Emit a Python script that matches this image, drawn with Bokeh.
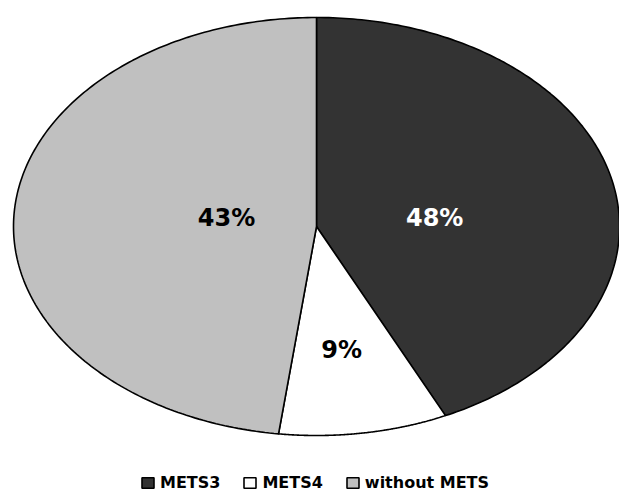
import numpy as np
from bokeh.plotting import figure
from bokeh.models import Range1d, Legend, LegendItem, ColumnDataSource
from bokeh.core.properties import value
from bokeh.embed import file_html
from bokeh.resources import INLINE

# ---- data ----
categories = ["METS3", "METS4", "without METS"]
label_texts = ["48%", "9%", "43%"]          # printed labels
slice_shares = [43, 9, 48]                    # angular shares as drawn (percent)

# ---- styling / layout (kept separate from the data) ----
colors = ["#333333", "#FFFFFF", "#C0C0C0"]
label_colors = ["#FFFFFF", "#000000", "#000000"]
label_dx = [0.39, 0.083, -0.297]   # label centre, fraction of horizontal radius
label_dy = [0.043, -0.593, 0.043]  # label centre, fraction of vertical radius

W, H = 619, 492
RX, RY = 303.0, 209.0      # ellipse radii in px
CX, CY = 316.0, 226.0      # ellipse centre in px (from top-left)

p = figure(width=W, height=H,
           x_range=Range1d(-CX / RX, (W - CX) / RX),
           y_range=Range1d(-(H - CY) / RY, CY / RY),
           output_backend="svg", toolbar_location=None,
           x_axis_type=None, y_axis_type=None,
           min_border=0, outline_line_color=None)
p.grid.visible = False
p.background_fill_color = "white"
p.border_fill_color = "white"

# slices: clockwise from 12 o'clock
shares = np.array(slice_shares, dtype=float)
ends = np.cumsum(shares) / shares.sum() * 360.0
starts = np.concatenate([[0.0], ends[:-1]])
xs, ys = [], []
for a0, a1 in zip(starts, ends):
    t = np.radians(np.linspace(a0, a1, 200))
    xs.append(np.concatenate([[0.0], np.sin(t), [0.0]]).tolist())
    ys.append(np.concatenate([[0.0], np.cos(t), [0.0]]).tolist())

src = ColumnDataSource(dict(xs=xs, ys=ys, color=colors, cat=categories))
r = p.patches("xs", "ys", source=src, fill_color="color",
              line_color="black", line_width=1.6)

lsrc = ColumnDataSource(dict(x=label_dx, y=label_dy, text=label_texts,
                             c=label_colors))
p.text("x", "y", text="text", source=lsrc, text_color="c",
       text_font=value("DejaVu Sans"), text_font_style="bold",
       text_font_size="24px", text_align="center", text_baseline="middle")

legend = Legend(
    items=[LegendItem(label=c, renderers=[r], index=i)
           for i, c in enumerate(categories)],
    orientation="horizontal", location=(140, 0),
    padding=0, margin=0, border_line_color=None, background_fill_alpha=0,
    glyph_width=15, glyph_height=13, label_standoff=5, spacing=22,
    label_height=13,
    label_text_font="DejaVu Sans", label_text_font_style="bold",
    label_text_font_size="16px", label_text_color="black")
p.add_layout(legend)

open("out.html", "w").write(file_html(p, INLINE))
